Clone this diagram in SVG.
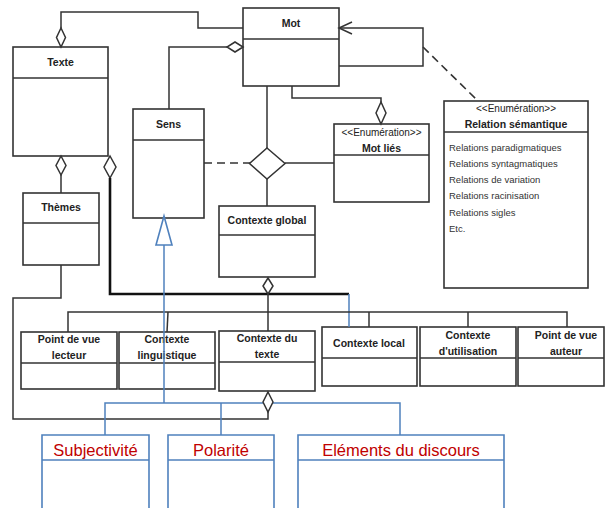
<svg xmlns="http://www.w3.org/2000/svg" width="606" height="508" viewBox="0 0 606 508">
<style>
.box{fill:#fff;stroke:#333;stroke-width:1.6}
.bbox{fill:#fff;stroke:#4f81bd;stroke-width:1.6}
.ln{fill:none;stroke:#333;stroke-width:1.5}
.thick{fill:none;stroke:#111;stroke-width:2.6}
.blue{fill:none;stroke:#4f81bd;stroke-width:1.5}
.dash{fill:none;stroke:#333;stroke-width:1.6;stroke-dasharray:8,5}
.dia{fill:#fff;stroke:#333;stroke-width:1.5}
.t{font-family:"Liberation Sans",Arial,sans-serif;font-weight:bold;font-size:10.5px;fill:#222;text-anchor:middle}
.st{font-family:"Liberation Sans",Arial,sans-serif;font-size:10px;fill:#222;text-anchor:middle}
.b{font-family:"Liberation Sans",Arial,sans-serif;font-size:9.5px;fill:#333}
.r{font-family:"Liberation Sans",Arial,sans-serif;font-size:16.5px;fill:#c00000;text-anchor:middle}
</style>
<rect width="606" height="508" fill="#fff"/>
<g id="mot">
<rect class="box" x="243" y="8" width="96" height="78"/>
<line class="ln" x1="243" y1="39" x2="339" y2="39"/>
<text class="t" x="291" y="27">Mot</text>
</g>
<g id="texte">
<rect class="box" x="13" y="47" width="95" height="109"/>
<line class="ln" x1="13" y1="78" x2="108" y2="78"/>
<text class="t" x="60.5" y="66">Texte</text>
</g>
<g id="sens">
<rect class="box" x="133" y="109" width="71" height="109"/>
<line class="ln" x1="133" y1="140" x2="204" y2="140"/>
<text class="t" x="168.5" y="128">Sens</text>
</g>
<g id="themes">
<rect class="box" x="23" y="193" width="76" height="72"/>
<line class="ln" x1="23" y1="223" x2="99" y2="223"/>
<text class="t" x="61" y="211">Thèmes</text>
</g>
<g id="contexte-global">
<rect class="box" x="219" y="206" width="96" height="71"/>
<line class="ln" x1="219" y1="235" x2="315" y2="235"/>
<text class="t" x="267" y="224" font-size="11">Contexte global</text>
</g>
<g id="mot-lies">
<rect class="box" x="334" y="124" width="95" height="78"/>
<line class="ln" x1="334" y1="155" x2="429" y2="155"/>
<text class="st" x="381.5" y="135.5">&lt;&lt;Enumération&gt;&gt;</text>
<text class="t" x="381.5" y="152" font-size="10">Mot liés</text>
</g>
<g id="relation-semantique">
<rect class="box" x="444" y="101" width="144" height="187"/>
<line class="ln" x1="444" y1="132" x2="588" y2="132"/>
<text class="st" x="516" y="112" font-size="11">&lt;&lt;Enumération&gt;&gt;</text>
<text class="t" x="516" y="128">Relation sémantique</text>
<text class="b" x="449" y="150.5">Relations paradigmatiques</text>
<text class="b" x="449" y="166.5">Relations syntagmatiques</text>
<text class="b" x="449" y="183">Relations de variation</text>
<text class="b" x="449" y="199">Relations racinisation</text>
<text class="b" x="449" y="215.5">Relations sigles</text>
<text class="b" x="449" y="232">Etc.</text>
</g>
<g id="point-de-vue-lecteur">
<rect class="box" x="21" y="332" width="96" height="57"/>
<line class="ln" x1="21" y1="363" x2="117" y2="363"/>
<text class="t" x="69" y="343">Point de vue</text>
<text class="t" x="69" y="359">lecteur</text>
</g>
<g id="contexte-linguistique">
<rect class="box" x="119" y="332" width="96" height="57"/>
<line class="ln" x1="119" y1="363" x2="215" y2="363"/>
<text class="t" x="167" y="343">Contexte</text>
<text class="t" x="167" y="359">linguistique</text>
</g>
<g id="contexte-du-texte">
<rect class="box" x="219" y="331" width="96" height="60"/>
<line class="ln" x1="219" y1="362" x2="315" y2="362"/>
<text class="t" x="267" y="342">Contexte du</text>
<text class="t" x="267" y="358">texte</text>
</g>
<g id="contexte-local">
<rect class="box" x="322" y="327" width="95" height="59"/>
<line class="ln" x1="322" y1="358" x2="417" y2="358"/>
<text class="t" x="369" y="347">Contexte local</text>
</g>
<g id="contexte-utilisation">
<rect class="box" x="420" y="327" width="96" height="59"/>
<line class="ln" x1="420" y1="358" x2="516" y2="358"/>
<text class="t" x="468" y="339">Contexte</text>
<text class="t" x="468" y="355">d'utilisation</text>
</g>
<g id="point-de-vue-auteur">
<rect class="box" x="518" y="327" width="86" height="59"/>
<line class="ln" x1="518" y1="358" x2="604" y2="358"/>
<text class="t" x="566" y="339">Point de vue</text>
<text class="t" x="566" y="355">auteur</text>
</g>
<g id="subjectivite">
<polyline class="bbox" fill="none" points="42,512 42,435 149,435 149,512"/>
<line class="blue" x1="42" y1="460" x2="149" y2="460"/>
<text class="r" x="95.5" y="456">Subjectivité</text>
</g>
<g id="polarite">
<polyline class="bbox" fill="none" points="168,512 168,435 274,435 274,512"/>
<line class="blue" x1="168" y1="460" x2="274" y2="460"/>
<text class="r" x="221" y="456">Polarité</text>
</g>
<g id="elements-du-discours">
<polyline class="bbox" fill="none" points="298,512 298,435 504,435 504,512"/>
<line class="blue" x1="298" y1="460" x2="504" y2="460"/>
<text class="r" x="401" y="456">Eléments du discours</text>
</g>
<g id="connectors">
<polyline class="ln" points="243,28 198,28 198,12 61,12 61,28"/>
<polygon class="dia" points="61,28 65.5,37.5 61,47 56.5,37.5"/>
<polyline class="ln" points="227,47 169,47 169,109"/>
<polygon class="dia" points="243,47 235,52 227,47 235,42"/>
<polyline class="ln" points="339,28 423,28 423,66 339,66"/>
<polyline class="ln" points="352,22 339,28 352,34"/>
<line class="dash" x1="423" y1="47" x2="478" y2="101"/>
<line class="ln" x1="267" y1="86" x2="267" y2="148"/>
<line class="ln" x1="267" y1="179" x2="267" y2="206"/>
<line class="dash" x1="204" y1="163" x2="250" y2="163"/>
<line class="ln" x1="285" y1="163" x2="334" y2="163"/>
<polygon class="dia" points="267,148 285,163.5 267,179 249.5,163.5"/>
<polyline class="ln" points="292,86 292,98 381,98 381,102"/>
<polygon class="dia" points="381,102 386,113 381,124 376,113"/>
<polygon class="dia" points="61,156 66,165.5 61,175 56,165.5"/>
<line class="ln" x1="61" y1="175" x2="61" y2="193"/>
<polygon class="dia" points="110,156 116,167 110,178 104,167"/>
<polyline class="thick" points="110,178 110,294 349,294"/>
<line class="blue" x1="349" y1="294" x2="349" y2="327"/>
<polyline class="ln" points="61,265 61,298 13,298 13,419 268,419 268,412"/>
<polyline class="blue" points="105,435 105,403 400,403 400,435"/>
<line class="blue" x1="221" y1="403" x2="221" y2="435"/>
<polygon class="dia" points="268,392 273,402 268,412 263,402"/>
<polygon class="dia" points="268,278 273,286 268,294 263,286"/>
<line class="ln" x1="268" y1="294" x2="268" y2="331"/>
<polyline class="ln" points="68,332 68,312 567,312 567,327"/>
<line class="ln" x1="168" y1="312" x2="167" y2="332"/>
<line class="ln" x1="369" y1="312" x2="369" y2="327"/>
<line class="ln" x1="468" y1="312" x2="468" y2="327"/>
<polygon fill="#fff" stroke="#4f81bd" stroke-width="1.6" points="164,216 172,245 156,245"/>
<line class="blue" x1="164" y1="245" x2="164" y2="403"/>
</g>
</svg>
